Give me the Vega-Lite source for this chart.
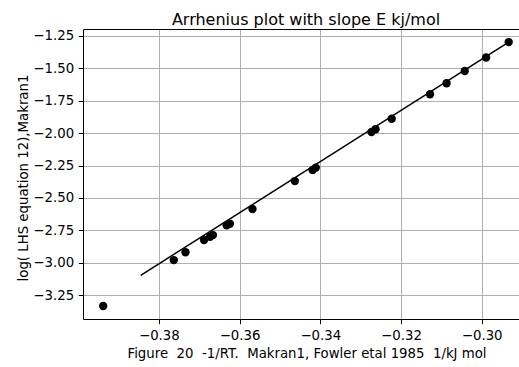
{
  "$schema": "https://vega.github.io/schema/vega-lite/v6.json",
  "width": 436,
  "height": 290,
  "autosize": "none",
  "padding": {"left": 83, "top": 29, "right": 0, "bottom": 48},
  "background": "white",
  "config": {
    "font": "DejaVu Sans",
    "view": {"stroke": null},
    "axis": {
      "labelFont": "DejaVu Sans",
      "titleFont": "DejaVu Sans",
      "labelFontSize": 13.3,
      "titleFontSize": 13.3,
      "labelColor": "black",
      "titleColor": "black",
      "titleFontWeight": "normal",
      "domainColor": "black",
      "domainWidth": 1,
      "tickColor": "black",
      "tickWidth": 1,
      "tickSize": 4.7,
      "labelPadding": 4.7,
      "labelOverlap": false,
      "labelSeparation": 0,
      "gridColor": "#b0b0b0",
      "gridWidth": 1,
      "gridOpacity": 1
    }
  },
  "title": {
    "text": "Arrhenius plot with slope E kj/mol",
    "font": "DejaVu Sans",
    "fontSize": 16,
    "fontWeight": "normal",
    "color": "black",
    "anchor": "middle",
    "baseline": "alphabetic",
    "offset": 7,
    "dx": 5,
    "dy": 19
  },
  "datasets": {
    "points": [
      {"x": -0.3938, "y": -3.335},
      {"x": -0.3763, "y": -2.980},
      {"x": -0.3734, "y": -2.920},
      {"x": -0.3688, "y": -2.825},
      {"x": -0.3673, "y": -2.800},
      {"x": -0.3666, "y": -2.787},
      {"x": -0.3632, "y": -2.712},
      {"x": -0.3624, "y": -2.700},
      {"x": -0.3568, "y": -2.586},
      {"x": -0.3463, "y": -2.370},
      {"x": -0.3419, "y": -2.284},
      {"x": -0.3411, "y": -2.266},
      {"x": -0.3273, "y": -1.991},
      {"x": -0.3263, "y": -1.970},
      {"x": -0.3223, "y": -1.889},
      {"x": -0.3128, "y": -1.700},
      {"x": -0.3087, "y": -1.615},
      {"x": -0.3042, "y": -1.520},
      {"x": -0.2989, "y": -1.416},
      {"x": -0.2933, "y": -1.297}
    ],
    "fit": [
      {"x": -0.3845, "y": -3.098},
      {"x": -0.2933, "y": -1.297}
    ]
  },
  "resolve": {"axis": {"x": "independent"}},
  "layer": [
    {
      "data": {"name": "points"},
      "mark": {"type": "point", "filled": true, "color": "black", "opacity": 1, "size": 70},
      "encoding": {
        "x": {
          "field": "x", "type": "quantitative",
          "scale": {"domain": [-0.3988, -0.29075], "nice": false, "zero": false},
          "axis": {
            "orient": "bottom",
            "values": [-0.38, -0.36, -0.34, -0.32, -0.30],
            "labelExpr": "replace(format(datum.value, '.2f'), '-', '\u2212')",
            "labelOverlap": false,
            "labelFlush": false,
            "title": "Figure \u00a020 \u00a0-1/RT. \u00a0Makran1, Fowler etal 1985 \u00a01/kJ mol",
            "titleX": 223.5,
            "titleY": 38.5,
            "titleAlign": "center",
            "titleBaseline": "alphabetic",
            "grid": true
          }
        },
        "y": {
          "field": "y", "type": "quantitative",
          "scale": {"domain": [-3.435, -1.196], "nice": false, "zero": false},
          "axis": {
            "values": [-3.25, -3.0, -2.75, -2.5, -2.25, -2.0, -1.75, -1.5, -1.25],
            "labelExpr": "replace(format(datum.value, '.2f'), '-', '\u2212')",
            "labelOverlap": false,
            "labelFlush": false,
            "labelBaseline": "middle",
            "title": "log( LHS equation 12),Makran1",
            "titleX": -56,
            "titleY": 148.5,
            "titleAngle": -90,
            "titleAlign": "center",
            "titleBaseline": "alphabetic",
            "grid": true
          }
        }
      }
    },
    {
      "data": {"name": "fit"},
      "mark": {"type": "line", "color": "black", "strokeWidth": 1.5},
      "encoding": {
        "x": {
          "field": "x", "type": "quantitative",
          "axis": {"orient": "top", "labels": false, "ticks": false, "grid": false, "title": null, "domain": true}
        },
        "y": {
          "field": "y", "type": "quantitative",
          "axis": {
            "values": [-3.25, -3.0, -2.75, -2.5, -2.25, -2.0, -1.75, -1.5, -1.25],
            "labelExpr": "replace(format(datum.value, '.2f'), '-', '\u2212')",
            "labelOverlap": false,
            "labelFlush": false,
            "labelBaseline": "middle",
            "title": "log( LHS equation 12),Makran1",
            "titleX": -56,
            "titleY": 148.5,
            "titleAngle": -90,
            "titleAlign": "center",
            "titleBaseline": "alphabetic",
            "grid": true
          }
        }
      }
    }
  ]
}
